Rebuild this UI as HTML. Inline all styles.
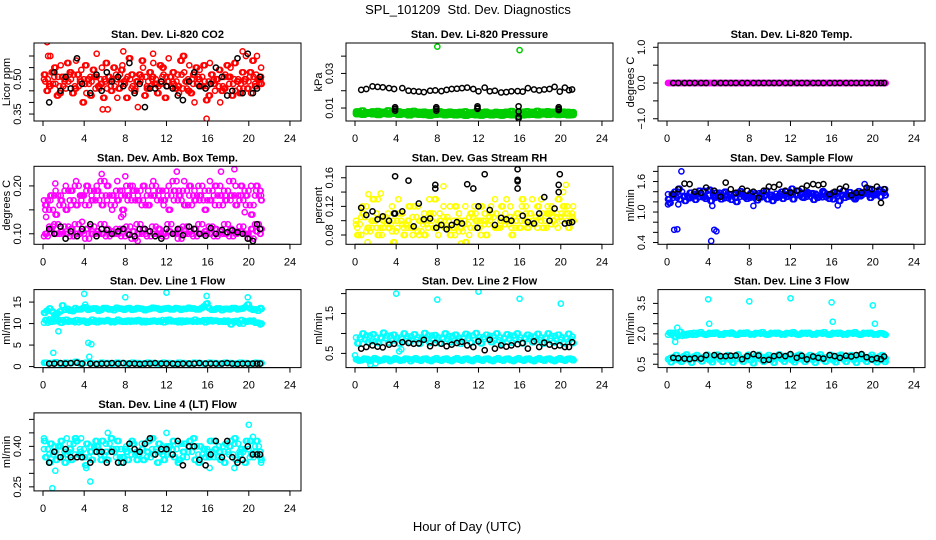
<!DOCTYPE html>
<html><head><meta charset="utf-8"><title>SPL_101209 Std. Dev. Diagnostics</title>
<style>
html,body{margin:0;padding:0;background:#fff;}
svg{display:block;font-family:"Liberation Sans",Arial,sans-serif;}
</style></head>
<body>
<svg id="chart" width="936" height="540" viewBox="0 0 936 540">
<rect x="0" y="0" width="936" height="540" fill="#fff"/>
<text x="468" y="14" text-anchor="middle" font-size="13" style="white-space:pre">SPL_101209  Std. Dev. Diagnostics</text>
<text x="467" y="531" text-anchor="middle" font-size="13">Hour of Day (UTC)</text>
</svg>
<script>
const hoursA=[0.1,0.6,1.1,1.6,2.1,2.6,3.1,3.6,4.1,4.6,5.1,5.6,6.1,6.6,7.1,7.6,8.1,8.6,9.1,9.6,10.1,10.6,11.1,11.6,12.1,12.6,13.1,13.6,14.1,14.6,15.1,15.6,16.1,16.6,17.1,17.6,18.1,18.6,19.1,19.6,20.1,20.6,21.1];
const hoursB=[0.35,0.85,1.35,1.85,2.35,2.85,3.35,3.85,4.35,4.85,5.35,5.85,6.35,6.85,7.35,7.85,8.35,8.85,9.35,9.85,10.35,10.85,11.35,11.85,12.35,12.85,13.35,13.85,14.35,14.85,15.35,15.85,16.35,16.85,17.35,17.85,18.35,18.85,19.35,19.85,20.35,20.85,21.25];
const hoursC=[0.22,0.72,1.22,1.72,2.22,2.72,3.22,3.72,4.22,4.72,5.22,5.72,6.22,6.72,7.22,7.72,8.22,8.72,9.22,9.72,10.22,10.72,11.22,11.72,12.22,12.72,13.22,13.72,14.22,14.72,15.22,15.72,16.22,16.72,17.22,17.72,18.22,18.72,19.22,19.72,20.22,20.72,21.2];
const hoursD=[0.47,0.97,1.47,1.97,2.47,2.97,3.47,3.97,4.47,4.97,5.47,5.97,6.47,6.97,7.47,7.97,8.47,8.97,9.47,9.97,10.47,10.97,11.47,11.97,12.47,12.97,13.47,13.97,14.47,14.97,15.47,15.97,16.47,16.97,17.47,17.97,18.47,18.97,19.47,19.97,20.47,20.97,21.15];
const blackHours=[0.6,1.1,1.7,2.2,2.7,3.3,3.8,4.6,5.2,5.7,6.2,6.7,7.3,7.8,8.4,8.9,9.4,9.9,10.4,10.9,11.5,12.0,12.6,13.1,13.6,14.2,14.7,15.2,15.8,16.3,16.8,17.4,17.9,18.4,18.9,19.4,19.9,20.4,20.8,21.1];
const xTicks=[0,4,8,12,16,20,24];

const co2A=[0.52,0.47,0.55,0.44,0.50,0.53,0.46,0.49,0.56,0.43,0.51,0.48,0.57,0.45,0.50,0.54,0.42,0.52,0.49,0.58,0.46,0.51,0.44,0.55,0.49,0.53,0.47,0.60,0.45,0.52,0.50,0.56,0.43,0.48,0.54,0.46,0.51,0.57,0.44,0.50,0.53,0.47,0.51];
const co2B=[0.45,0.53,0.43,0.51,0.57,0.44,0.52,0.40,0.50,0.54,0.47,0.42,0.51,0.55,0.46,0.49,0.59,0.45,0.52,0.43,0.53,0.48,0.56,0.42,0.51,0.46,0.58,0.49,0.44,0.55,0.47,0.41,0.52,0.50,0.45,0.56,0.43,0.49,0.53,0.46,0.58,0.50,0.48];
const co2C=[0.49,0.60,0.48,0.56,0.46,0.50,0.58,0.54,0.44,0.49,0.61,0.55,0.46,0.50,0.42,0.56,0.51,0.47,0.38,0.55,0.49,0.57,0.47,0.52,0.59,0.48,0.44,0.53,0.56,0.40,0.54,0.49,0.57,0.45,0.40,0.52,0.55,0.45,0.48,0.60,0.44,0.52,0.55];
const co2D=[0.50,0.48,0.51,0.47,0.49,0.52,0.47,0.50,0.48,0.51,0.46,0.50,0.49,0.47,0.52,0.48,0.50,0.46,0.49,0.51,0.47,0.50,0.48,0.51,0.47,0.49,0.52,0.46,0.50,0.48,0.51,0.47,0.49,0.50,0.47,0.51,0.48,0.50,0.46,0.49,0.51,0.48,0.50];
const co2OutX=[0.4,0.5,15.9,5.8,6.3,7.8,10.7,19.4,20.8];
const co2OutY=[0.66,0.60,0.33,0.37,0.37,0.62,0.61,0.62,0.60];
const co2Black=[0.40,0.53,0.45,0.51,0.46,0.59,0.48,0.44,0.52,0.45,0.53,0.49,0.51,0.47,0.57,0.44,0.48,0.38,0.46,0.46,0.49,0.47,0.46,0.43,0.41,0.49,0.53,0.47,0.46,0.48,0.55,0.51,0.43,0.45,0.59,0.44,0.61,0.44,0.46,0.51];

const presG1=[0.008,0.0085,0.0075,0.008,0.0082,0.0078,0.0086,0.0079,0.0081,0.0076,0.008,0.0083,0.0077,0.0079,0.0074,0.0078,0.0081,0.0076,0.0079,0.0075,0.0077,0.008,0.0074,0.0078,0.0076,0.0079,0.0073,0.0077,0.0075,0.0078,0.0082,0.0076,0.0079,0.0081,0.0077,0.0083,0.0079,0.0081,0.0078,0.0082,0.0079,0.0077,0.0076];
const presG2=[0.0065,0.0062,0.0068,0.0064,0.006,0.0066,0.0063,0.0067,0.0061,0.0065,0.0058,0.0064,0.0062,0.006,0.0057,0.0061,0.0063,0.0059,0.0062,0.0058,0.006,0.0056,0.0061,0.0059,0.0057,0.0062,0.0058,0.006,0.0057,0.0061,0.0059,0.0063,0.0058,0.006,0.0062,0.0059,0.0064,0.0061,0.0063,0.006,0.0062,0.0058,0.006];
const presG3=[0.0072,0.0070,0.0074,0.0071,0.0069,0.0073,0.0070,0.0072,0.0068,0.0071,0.0069,0.0070,0.0067,0.0069,0.0066,0.0068,0.0070,0.0067,0.0069,0.0066,0.0068,0.0065,0.0069,0.0067,0.0066,0.0069,0.0065,0.0068,0.0066,0.0069,0.0067,0.0070,0.0066,0.0068,0.0070,0.0067,0.0071,0.0069,0.0071,0.0068,0.0070,0.0066,0.0068];
const presOutX=[8.0,16.0];
const presOutY=[0.0455,0.0435];
const presBlack=[0.0205,0.021,0.0225,0.0222,0.022,0.0215,0.021,0.0215,0.02,0.0198,0.0195,0.0192,0.02,0.0202,0.0198,0.0205,0.021,0.0212,0.0215,0.0218,0.021,0.0197,0.0218,0.0197,0.02,0.019,0.0192,0.0197,0.0198,0.0195,0.0215,0.0207,0.0202,0.0207,0.021,0.0222,0.0195,0.0218,0.0203,0.0207];
const presBlackExX=[3.9,3.9,3.9,7.9,7.9,7.9,11.9,11.9,11.9,15.9,15.9,15.9,15.9,19.8,19.8,19.8];
const presBlackExY=[0.0105,0.0095,0.0085,0.0105,0.0095,0.0085,0.011,0.01,0.0095,0.011,0.008,0.005,0.004,0.0105,0.0095,0.0088];

const tempA=[0,0,0,0,0,0,0,0,0,0,0,0,0,0,0,0,0,0,0,0,0,0,0,0,0,0,0,0,0,0,0,0,0,0,0,0,0,0,0,0,0,0,0];
const tempB=[0,0,0,0,0,0,0,0,0,0,0,0,0,0,0,0,0,0,0,0,0,0,0,0,0,0,0,0,0,0,0,0,0,0,0,0,0,0,0,0,0,0,0];
const tempBlack=[0,0,0,0,0,0,0,0,0,0,0,0,0,0,0,0,0,0,0,0,0,0,0,0,0,0,0,0,0,0,0,0,0,0,0,0,0,0,0,0];

const ambU1=[0.17,0.15,0.18,0.16,0.19,0.17,0.20,0.18,0.16,0.19,0.17,0.21,0.18,0.16,0.19,0.18,0.20,0.17,0.19,0.16,0.18,0.20,0.17,0.19,0.18,0.21,0.17,0.19,0.16,0.18,0.20,0.17,0.19,0.18,0.16,0.19,0.21,0.18,0.17,0.19,0.16,0.18,0.19];
const ambU2=[0.16,0.18,0.14,0.17,0.15,0.19,0.16,0.18,0.20,0.17,0.19,0.16,0.20,0.18,0.17,0.15,0.18,0.19,0.17,0.20,0.16,0.18,0.19,0.17,0.15,0.19,0.18,0.16,0.20,0.17,0.18,0.15,0.17,0.20,0.18,0.17,0.18,0.16,0.20,0.18,0.14,0.20,0.17];
const ambU3=[0.15,0.17,0.19,0.18,0.20,0.16,0.21,0.17,0.19,0.18,0.20,0.18,0.17,0.15,0.21,0.19,0.17,0.20,0.18,0.17,0.19,0.21,0.18,0.16,0.20,0.17,0.19,0.21,0.18,0.19,0.17,0.19,0.21,0.16,0.20,0.18,0.17,0.20,0.18,0.16,0.20,0.19,0.18];
const ambL1=[0.10,0.11,0.10,0.105,0.10,0.11,0.10,0.105,0.11,0.10,0.105,0.10,0.11,0.105,0.10,0.11,0.10,0.105,0.10,0.11,0.105,0.10,0.11,0.10,0.105,0.10,0.11,0.10,0.105,0.11,0.10,0.105,0.10,0.11,0.105,0.10,0.11,0.10,0.105,0.10,0.11,0.105,0.11];
const ambL2=[0.095,0.115,0.12,0.10,0.115,0.095,0.12,0.10,0.09,0.115,0.10,0.12,0.095,0.10,0.11,0.095,0.115,0.09,0.12,0.10,0.095,0.115,0.10,0.095,0.12,0.10,0.09,0.115,0.10,0.095,0.12,0.10,0.115,0.095,0.10,0.12,0.095,0.105,0.115,0.10,0.09,0.12,0.10];
const ambOutX=[0.3,1.2,5.7,7.6,7.8,8.0,13.0,17.3,18.6,19.6,9.2,3.8];
const ambOutY=[0.135,0.205,0.225,0.135,0.14,0.22,0.23,0.23,0.235,0.145,0.085,0.125];
const ambBlack=[0.11,0.10,0.115,0.09,0.105,0.095,0.11,0.12,0.095,0.11,0.108,0.10,0.105,0.11,0.098,0.095,0.11,0.11,0.105,0.095,0.09,0.11,0.10,0.11,0.097,0.115,0.11,0.10,0.096,0.112,0.10,0.108,0.103,0.107,0.103,0.10,0.09,0.085,0.12,0.11];

const rhY1=[0.10,0.08,0.12,0.09,0.11,0.08,0.10,0.12,0.09,0.11,0.10,0.08,0.12,0.10,0.09,0.11,0.08,0.12,0.10,0.09,0.11,0.10,0.08,0.12,0.09,0.11,0.10,0.13,0.09,0.11,0.12,0.10,0.09,0.12,0.11,0.10,0.13,0.09,0.12,0.11,0.10,0.12,0.11];
const rhY2=[0.08,0.11,0.09,0.13,0.08,0.10,0.09,0.07,0.11,0.08,0.12,0.09,0.10,0.08,0.11,0.13,0.10,0.09,0.08,0.12,0.09,0.07,0.11,0.10,0.12,0.08,0.11,0.09,0.12,0.10,0.08,0.11,0.13,0.09,0.10,0.12,0.09,0.11,0.10,0.13,0.12,0.09,0.10];
const rhY3=[0.09,0.12,0.07,0.10,0.13,0.09,0.11,0.10,0.13,0.09,0.10,0.12,0.08,0.11,0.13,0.09,0.11,0.10,0.12,0.08,0.10,0.12,0.09,0.11,0.08,0.10,0.12,0.11,0.10,0.13,0.09,0.10,0.12,0.10,0.13,0.09,0.11,0.12,0.10,0.09,0.14,0.11,0.12];
const rhY4=[0.095,0.105,0.085,0.10,0.09,0.105,0.095,0.085,0.10,0.095,0.09,0.105,0.085,0.095,0.10,0.09,0.095,0.105,0.09,0.10,0.085,0.095,0.105,0.09,0.10,0.095,0.105,0.09,0.10,0.095,0.105,0.09,0.10,0.11,0.095,0.105,0.10,0.11,0.095,0.105,0.11,0.10,0.105];
const rhOutX=[10.3,8.6,20.5,1.3,2.5];
const rhOutY=[0.068,0.148,0.15,0.137,0.138];
const rhBlack=[0.118,0.108,0.113,0.102,0.106,0.100,0.110,0.113,0.156,0.092,0.124,0.102,0.103,0.150,0.094,0.088,0.094,0.098,0.096,0.151,0.145,0.120,0.165,0.115,0.094,0.104,0.102,0.100,0.157,0.107,0.098,0.096,0.110,0.133,0.100,0.117,0.165,0.096,0.097,0.098];
const rhBlackExX=[3.9,3.9,15.8,15.8,15.8,7.8,19.8,19.8,11.9,7.9];
const rhBlackExY=[0.162,0.110,0.172,0.155,0.145,0.145,0.150,0.140,0.090,0.090];

const sfB1=[1.35,1.28,1.40,1.32,1.30,1.36,1.29,1.42,1.33,1.31,1.38,1.27,1.34,1.36,1.30,1.33,1.28,1.37,1.31,1.34,1.29,1.36,1.32,1.40,1.35,1.33,1.38,1.30,1.36,1.33,1.29,1.35,1.38,1.31,1.34,1.30,1.36,1.33,1.39,1.34,1.37,1.40,1.38];
const sfB2=[1.18,1.40,1.25,1.22,1.38,1.24,1.35,1.26,1.22,1.38,1.25,1.33,1.24,1.20,1.35,1.26,1.30,1.23,1.37,1.25,1.22,1.31,1.26,1.35,1.25,1.42,1.28,1.36,1.24,1.30,1.38,1.26,1.33,1.22,1.28,1.39,1.25,1.31,1.40,1.28,1.35,1.30,1.33];
const sfB3=[1.25,1.33,1.46,1.30,1.27,1.31,1.42,1.30,1.44,1.28,1.32,1.40,1.35,1.28,1.41,1.30,1.37,1.33,1.29,1.42,1.34,1.28,1.40,1.30,1.46,1.33,1.29,1.39,1.37,1.28,1.41,1.34,1.25,1.38,1.42,1.33,1.28,1.41,1.36,1.46,1.33,1.44,1.45];
const sfOutX=[0.7,1.0,1.4,4.3,4.6,4.8,1.1,8.4,16.6,19.2,0.1,4.4];
const sfOutY=[0.65,0.66,1.80,0.43,0.65,0.62,1.15,1.12,1.13,1.55,1.15,1.12];
const sfBlack=[1.35,1.45,1.56,1.55,1.40,1.38,1.48,1.42,1.30,1.58,1.45,1.38,1.46,1.42,1.40,1.28,1.42,1.50,1.49,1.54,1.42,1.38,1.42,1.46,1.52,1.55,1.53,1.55,1.35,1.40,1.46,1.50,1.33,1.38,1.38,1.48,1.45,1.50,1.18,1.45];

const l1U1=[12.5,13.5,12.0,12.8,13.2,13.0,13.6,13.3,13.8,13.4,13.5,13.2,13.6,13.3,13.7,13.4,13.5,13.2,13.6,13.4,13.3,13.7,13.5,13.4,13.6,13.3,13.5,13.4,13.7,13.5,13.3,14.0,13.6,13.2,13.5,13.4,13.3,13.6,13.4,13.8,13.5,13.3,13.6];
const l1U2=[13.0,12.8,12.4,14.2,13.4,12.9,13.3,13.6,13.2,13.5,13.0,13.6,13.3,13.1,13.5,13.2,13.6,13.3,13.5,13.1,13.4,13.6,13.2,13.5,13.3,13.6,13.2,13.4,13.5,13.3,13.6,14.6,13.2,13.5,13.1,13.4,13.6,13.3,13.5,14.4,13.2,13.0,13.4];
const l1M1=[10.2,11.0,10.5,10.8,10.4,10.6,10.3,10.7,10.5,10.4,10.7,10.5,10.6,10.3,10.5,10.6,10.4,10.7,10.5,10.3,10.6,10.5,10.4,10.8,10.5,10.6,10.3,10.7,10.5,10.4,10.6,10.8,10.5,10.6,10.4,10.7,10.5,10.3,10.0,10.6,10.7,10.2,9.8];
const l1M2=[10.8,10.4,11.2,10.2,10.9,10.5,10.8,10.6,10.2,10.9,10.3,10.6,10.8,10.5,10.9,10.4,10.7,10.5,10.8,10.6,10.4,10.7,10.6,10.3,10.9,10.5,10.7,10.4,10.6,10.9,10.5,10.3,10.8,10.7,10.5,10.4,9.8,10.6,10.8,10.4,10.5,10.2,10.0];
const l1Low=[0.9,0.8,1.0,0.7,0.9,0.8,1.1,0.7,0.9,0.8,0.7,0.9,0.8,0.7,0.9,0.8,0.7,0.9,0.8,0.7,0.9,0.8,0.7,0.9,0.8,0.7,0.9,0.8,0.7,0.9,0.8,0.7,0.9,0.8,0.7,0.9,0.8,0.7,0.9,0.8,0.7,0.9,0.8];
const l1OutX=[1.0,1.5,4.0,4.1,4.4,4.7,4.5,8.0,12.0,15.9,16.0,19.9,20.0,0.2,1.3];
const l1OutY=[3.2,8.2,16.9,14.4,5.5,5.2,2.3,16.1,17.2,16.4,14.7,16.1,14.4,12.5,12.3];
const l1Black=[0.7,0.7,0.8,0.7,0.8,0.9,0.7,0.7,0.6,0.7,0.7,0.8,0.7,0.8,0.7,0.7,0.6,0.7,0.7,0.8,0.7,0.7,0.7,0.6,0.7,0.7,0.7,0.8,0.7,0.7,0.7,0.7,0.8,0.7,0.6,0.7,0.7,0.7,0.7,0.7];

const l2U1=[0.90,0.85,0.95,0.80,0.90,0.88,0.95,0.82,0.90,0.86,0.93,0.84,0.90,0.87,0.95,0.83,0.90,0.86,0.94,0.82,0.90,0.87,0.95,0.84,0.91,0.86,0.94,0.83,0.90,0.87,0.95,0.84,0.90,0.86,0.93,0.83,0.90,0.87,0.94,0.84,0.90,0.86,0.92];
const l2U2=[0.75,1.00,0.78,0.98,0.76,1.02,0.77,0.97,0.75,1.00,0.78,0.98,0.74,1.01,0.77,0.96,0.75,1.00,0.78,0.97,0.74,0.99,0.77,1.01,0.75,0.97,0.78,1.00,0.74,0.98,0.77,1.00,0.75,0.97,0.78,0.99,0.74,1.00,0.77,0.97,0.75,0.99,0.76];
const l2L1=[0.35,0.33,0.36,0.34,0.35,0.33,0.36,0.34,0.35,0.33,0.36,0.35,0.34,0.36,0.33,0.35,0.34,0.36,0.33,0.35,0.34,0.36,0.33,0.35,0.34,0.36,0.33,0.35,0.34,0.36,0.33,0.35,0.34,0.36,0.33,0.35,0.34,0.36,0.33,0.35,0.34,0.36,0.35];
const l2L2=[0.32,0.37,0.31,0.38,0.32,0.37,0.31,0.38,0.32,0.37,0.31,0.38,0.32,0.37,0.31,0.38,0.32,0.37,0.31,0.38,0.32,0.37,0.31,0.38,0.32,0.37,0.31,0.38,0.32,0.37,0.31,0.38,0.32,0.37,0.31,0.38,0.32,0.37,0.31,0.38,0.32,0.37,0.33];
const l2OutX=[0.0,1.5,4.0,8.0,12.0,16.0,20.0,4.3,4.5,2.0];
const l2OutY=[0.45,0.22,2.0,1.85,2.05,1.87,1.75,0.55,0.6,0.25];
const l2Black=[0.62,0.66,0.70,0.67,0.65,0.72,0.74,0.78,0.76,0.74,0.75,0.84,0.68,0.76,0.74,0.68,0.72,0.76,0.79,0.70,0.66,0.80,0.58,0.84,0.62,0.70,0.67,0.70,0.73,0.76,0.62,0.80,0.66,0.77,0.72,0.68,0.70,0.66,0.66,0.78];

const l3U1=[1.95,2.05,1.90,2.0,1.95,2.05,2.0,1.98,2.05,2.0,1.95,2.03,2.0,1.97,2.05,2.0,1.96,2.04,2.0,1.97,2.05,2.0,1.96,2.04,2.0,1.97,2.05,2.0,1.96,2.04,2.0,1.97,2.05,2.0,1.96,2.04,2.0,1.97,2.05,2.0,1.96,2.02,1.98];
const l3U2=[2.05,1.85,2.10,1.92,2.02,1.96,2.08,1.95,2.0,2.06,1.98,2.02,2.06,1.95,2.0,2.06,1.98,2.03,2.08,1.96,2.02,2.05,1.98,2.03,2.08,1.96,2.02,2.05,1.98,2.03,2.08,1.96,2.02,2.05,1.98,2.03,2.08,1.96,2.02,2.05,1.98,2.03,1.95];
const l3L1=[0.75,0.85,0.70,0.90,0.72,0.88,0.75,0.85,0.70,0.92,0.74,0.86,0.72,0.90,0.75,0.85,0.70,0.92,0.74,0.86,0.72,0.90,0.75,0.85,0.70,0.92,0.74,0.86,0.72,0.90,0.75,0.85,0.70,0.92,0.74,0.86,0.72,0.90,0.75,0.85,0.70,0.88,0.74];
const l3L2=[0.60,0.95,0.62,0.98,0.58,0.95,0.64,0.96,0.60,0.97,0.62,0.95,0.58,0.98,0.63,0.96,0.55,0.97,0.62,0.95,0.58,0.98,0.63,0.96,0.60,0.97,0.62,0.95,0.58,0.98,0.63,0.96,0.60,0.97,0.62,0.95,0.58,0.98,0.63,0.96,0.60,0.95,0.62];
const l3L3=[0.82,0.78,0.80,0.84,0.79,0.81,0.83,0.78,0.80,0.84,0.79,0.81,0.83,0.78,0.80,0.84,0.79,0.81,0.83,0.78,0.80,0.84,0.79,0.81,0.83,0.78,0.80,0.84,0.79,0.81,0.83,0.78,0.80,0.84,0.79,0.81,0.83,0.78,0.80,0.84,0.79,0.81,0.80];
const l3OutX=[4.0,4.1,8.0,12.0,16.0,16.1,20.0,20.2,1.0,0.8,0.9];
const l3OutY=[3.7,2.5,3.6,3.75,3.55,2.6,3.4,2.5,2.3,1.6,1.85];
const l3Black=[0.82,0.80,0.78,0.76,0.80,0.78,0.95,0.95,0.90,0.90,0.92,0.93,0.75,0.90,1.00,0.93,0.70,0.72,0.90,0.95,0.90,1.00,0.82,0.92,0.74,0.88,0.82,0.78,0.95,0.90,0.82,0.92,0.88,0.95,1.00,0.85,0.74,0.80,0.75,0.88];

const l4C1=[0.39,0.37,0.40,0.36,0.38,0.41,0.37,0.39,0.36,0.40,0.38,0.37,0.41,0.38,0.36,0.39,0.40,0.37,0.38,0.41,0.36,0.39,0.38,0.40,0.37,0.39,0.41,0.36,0.38,0.40,0.37,0.39,0.38,0.36,0.40,0.38,0.37,0.41,0.38,0.39,0.36,0.40,0.38];
const l4C2=[0.36,0.41,0.35,0.42,0.37,0.35,0.42,0.36,0.41,0.35,0.40,0.42,0.35,0.39,0.42,0.36,0.35,0.41,0.37,0.35,0.42,0.37,0.41,0.35,0.40,0.36,0.35,0.41,0.42,0.35,0.40,0.36,0.42,0.39,0.35,0.41,0.42,0.35,0.39,0.42,0.37,0.42,0.35];
const l4C3=[0.42,0.34,0.38,0.40,0.34,0.39,0.43,0.38,0.33,0.38,0.42,0.35,0.38,0.43,0.39,0.34,0.38,0.42,0.35,0.39,0.38,0.43,0.34,0.37,0.39,0.42,0.34,0.38,0.40,0.43,0.34,0.39,0.36,0.42,0.38,0.34,0.40,0.43,0.37,0.34,0.42,0.38,0.36];
const l4OutX=[0.9,1.2,4.6,6.3,12.0,20.0,20.4,4.2,16.2,18.6,21.2,0.1,2.3,3.7];
const l4OutY=[0.245,0.31,0.27,0.45,0.45,0.48,0.435,0.32,0.32,0.32,0.34,0.43,0.43,0.43];
const l4Black=[0.34,0.38,0.36,0.39,0.36,0.36,0.36,0.34,0.38,0.38,0.34,0.38,0.34,0.34,0.41,0.39,0.38,0.41,0.43,0.37,0.39,0.39,0.37,0.42,0.33,0.40,0.40,0.35,0.33,0.37,0.42,0.36,0.42,0.36,0.34,0.35,0.40,0.37,0.37,0.37];

const NS='http://www.w3.org/2000/svg';
const svg=document.getElementById('chart');
function mk(tag,attrs,parent){const e=document.createElementNS(NS,tag);for(const k in attrs)e.setAttribute(k,attrs[k]);(parent||svg).appendChild(e);return e;}

const RED='#ff0000',GRN='#00cd00',MAG='#ff00ff',YEL='#ffff00',BLU='#0000ff',CYN='#00ffff',BLK='#000000';
const panels=[
 {key:'co2',title:'Stan. Dev. Li-820 CO2',ylab:'Licor ppm',col:0,row:0,ymin:0.32,ymax:0.656,yt:[0.35,0.40,0.45,0.50,0.55,0.60],yl:['0.35','','','0.50','',''],
  series:[[hoursA,co2A,RED],[hoursB,co2B,RED],[hoursC,co2C,RED],[hoursD,co2D,RED],[hoursC,co2A,RED],[hoursD,co2B,RED],[hoursA,co2D,RED],[co2OutX,co2OutY,RED],[blackHours,co2Black,BLK]]},
 {key:'pressure',title:'Stan. Dev. Li-820 Pressure',ylab:'kPa',col:1,row:0,ymin:0.0025,ymax:0.0476,yt:[0.01,0.02,0.03,0.04],yl:['0.01','','0.03',''],
  series:[[hoursA,presG1,GRN],[hoursB,presG2,GRN],[hoursA,presG3,GRN],[hoursB,presG1,GRN],[hoursC,presG2,GRN],[hoursD,presG3,GRN],[hoursC,presG1,GRN],[hoursD,presG2,GRN],[hoursB,presG3,GRN],[hoursA,presG2,GRN],[presOutX,presOutY,GRN],[blackHours,presBlack,BLK],[presBlackExX,presBlackExY,BLK]]},
 {key:'li820-temp',title:'Stan. Dev. Li-820 Temp.',ylab:'degrees C',col:2,row:0,ymin:-1.063,ymax:1.12,yt:[-1,-0.5,0,0.5,1],yl:['\u22121.0','','0.0','','1.0'],
  series:[[hoursA,tempA,MAG],[hoursB,tempB,MAG],[hoursC,tempA,MAG],[hoursD,tempB,MAG],[blackHours,tempBlack,BLK]]},
 {key:'amb-temp',title:'Stan. Dev. Amb. Box Temp.',ylab:'degrees C',col:0,row:1,ymin:0.078,ymax:0.241,yt:[0.10,0.15,0.20],yl:['0.10','','0.20'],
  series:[[hoursA,ambU1,MAG],[hoursB,ambU2,MAG],[hoursC,ambU3,MAG],[hoursD,ambU1,MAG],[hoursC,ambU2,MAG],[hoursB,ambL1,MAG],[hoursA,ambL2,MAG],[hoursC,ambL1,MAG],[hoursD,ambL2,MAG],[ambOutX,ambOutY,MAG],[blackHours,ambBlack,BLK]]},
 {key:'rh',title:'Stan. Dev. Gas Stream RH',ylab:'percent',col:1,row:1,ymin:0.067,ymax:0.176,yt:[0.08,0.10,0.12,0.14,0.16],yl:['0.08','','0.12','','0.16'],
  series:[[hoursA,rhY1,YEL],[hoursB,rhY2,YEL],[hoursC,rhY3,YEL],[hoursD,rhY4,YEL],[hoursA,rhY4,YEL],[hoursC,rhY2,YEL],[rhOutX,rhOutY,YEL],[blackHours,rhBlack,BLK],[rhBlackExX,rhBlackExY,BLK]]},
 {key:'sample-flow',title:'Stan. Dev. Sample Flow',ylab:'ml/min',col:2,row:1,ymin:0.365,ymax:1.90,yt:[0.4,0.6,0.8,1.0,1.2,1.4,1.6,1.8],yl:['0.4','','','1.0','','','1.6',''],
  series:[[hoursA,sfB1,BLU],[hoursB,sfB2,BLU],[hoursC,sfB3,BLU],[hoursD,sfB1,BLU],[hoursC,sfB2,BLU],[hoursA,sfB3,BLU],[sfOutX,sfOutY,BLU],[blackHours,sfBlack,BLK]]},
 {key:'line1',title:'Stan. Dev. Line 1 Flow',ylab:'ml/min',col:0,row:2,ymin:-0.24,ymax:17.9,yt:[0,5,10,15],yl:['0','5','10','15'],
  series:[[hoursA,l1U1,CYN],[hoursB,l1U2,CYN],[hoursC,l1U1,CYN],[hoursD,l1U2,CYN],[hoursA,l1M1,CYN],[hoursB,l1M2,CYN],[hoursC,l1M2,CYN],[hoursD,l1M1,CYN],[hoursA,l1Low,CYN],[hoursB,l1Low,CYN],[hoursC,l1Low,CYN],[l1OutX,l1OutY,CYN],[blackHours,l1Black,BLK]]},
 {key:'line2',title:'Stan. Dev. Line 2 Flow',ylab:'ml/min',col:1,row:2,ymin:0.144,ymax:2.10,yt:[0.5,1.0,1.5,2.0],yl:['0.5','','1.5',''],
  series:[[hoursA,l2U1,CYN],[hoursB,l2U2,CYN],[hoursC,l2U2,CYN],[hoursD,l2U1,CYN],[hoursA,l2L1,CYN],[hoursB,l2L2,CYN],[hoursC,l2L1,CYN],[hoursD,l2L2,CYN],[l2OutX,l2OutY,CYN],[blackHours,l2Black,BLK]]},
 {key:'line3',title:'Stan. Dev. Line 3 Flow',ylab:'ml/min',col:2,row:2,ymin:0.335,ymax:4.18,yt:[0.5,1.0,1.5,2.0,2.5,3.0,3.5],yl:['0.5','','','2.0','','','3.5'],
  series:[[hoursA,l3U1,CYN],[hoursB,l3U2,CYN],[hoursC,l3U2,CYN],[hoursD,l3U1,CYN],[hoursA,l3L1,CYN],[hoursB,l3L2,CYN],[hoursB,l3L3,CYN],[hoursC,l3L1,CYN],[hoursD,l3L2,CYN],[l3OutX,l3OutY,CYN],[blackHours,l3Black,BLK]]},
 {key:'line4',title:'Stan. Dev. Line 4 (LT) Flow',ylab:'ml/min',col:0,row:3,ymin:0.235,ymax:0.524,yt:[0.25,0.30,0.35,0.40,0.45,0.50],yl:['0.25','','','0.40','',''],
  series:[[hoursA,l4C1,CYN],[hoursB,l4C2,CYN],[hoursC,l4C3,CYN],[hoursD,l4C1,CYN],[hoursC,l4C2,CYN],[hoursA,l4C3,CYN],[l4OutX,l4OutY,CYN],[blackHours,l4Black,BLK]]}
];

const BOXW=267,BOXH=78;
panels.forEach(p=>{
  const bx=34+312*p.col, by=43+123.3*p.row;
  const xs=t=>bx+9+t*10.29;
  const ys=v=>by+BOXH-(v-p.ymin)/(p.ymax-p.ymin)*BOXH;
  const g=mk('g',{});
  
  
  const clipId='clip-'+p.key;
  const cp=mk('clipPath',{id:clipId},g);
  mk('rect',{x:bx,y:by,width:BOXW,height:BOXH},cp);
  const pts=mk('g',{'clip-path':'url(#'+clipId+')',fill:'none','stroke-width':1.5},g);
  
  
  p.series.forEach(s=>{
    const [X,Y,c]=s;const n=Math.min(X.length,Y.length);
    for(let i=0;i<n;i++){
      const pt=mk('circle',{cx:xs(X[i]).toFixed(1),cy:ys(Y[i]).toFixed(1),r:2.6,stroke:c},pts);
      
      
    }
  });
  const box=mk('rect',{x:bx,y:by,width:BOXW,height:BOXH,fill:'none',stroke:'#000','stroke-width':1},g);
  
  
  const tt=mk('text',{x:bx+BOXW/2,y:by-5,'text-anchor':'middle','font-size':11,'font-weight':'bold'},g);
  tt.textContent=p.title;
  
  
  const xa=mk('g',{stroke:'#000','stroke-width':1},g);
  
  
  const yb=by+BOXH;
  mk('line',{x1:xs(xTicks[0]),x2:xs(xTicks[xTicks.length-1]),y1:yb,y2:yb},xa);
  xTicks.forEach(t=>{
    mk('line',{x1:xs(t),x2:xs(t),y1:yb,y2:yb+5},xa);
    const lb=mk('text',{x:xs(t),y:yb+21,'text-anchor':'middle','font-size':11,stroke:'none',fill:'#000'},g);
    lb.textContent=String(t);
    
    
  });
  const ya=mk('g',{stroke:'#000','stroke-width':1},g);
  
  
  mk('line',{x1:bx,x2:bx,y1:ys(p.yt[0]),y2:ys(p.yt[p.yt.length-1])},ya);
  p.yt.forEach((v,i)=>{
    const y=ys(v);
    mk('line',{x1:bx-5,x2:bx,y1:y,y2:y},ya);
    if(p.yl[i]){
      const lb=mk('text',{x:bx-13,y:y,'text-anchor':'middle','font-size':11,transform:'rotate(-90 '+(bx-13)+' '+y+')'},g);
      lb.textContent=p.yl[i];
      
      
    }
  });
  const yt=mk('text',{x:bx-24,y:by+BOXH/2,'text-anchor':'middle','font-size':11,transform:'rotate(-90 '+(bx-24)+' '+(by+BOXH/2)+')'},g);
  yt.textContent=p.ylab;
  
  
});
</script>
</body></html>
